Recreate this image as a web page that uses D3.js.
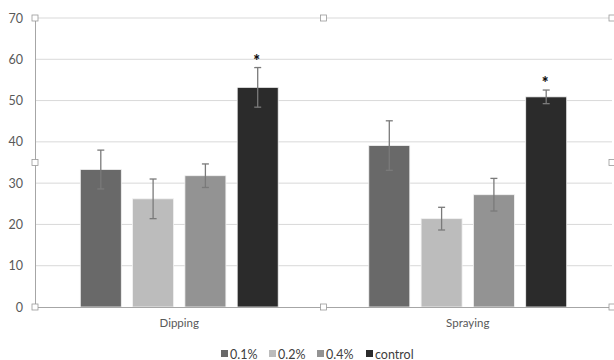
<!DOCTYPE html>
<html><head><meta charset="utf-8">
<script src="https://cdn.jsdelivr.net/npm/d3@7"></script>
<style>body{margin:0;background:#fff}svg{display:block}text{font-family:Lato,"Open Sans",sans-serif}</style>
</head><body>
<svg id="c" width="614" height="360"></svg>
<script>
const categories = ["Dipping", "Spraying"];
const seriesNames = ["0.1%", "0.2%", "0.4%", "control"];
const seriesColors = ["#696969", "#bcbcbc", "#939393", "#2b2b2b"];
const values = {
  "0.1%":    [33.3, 39.1],
  "0.2%":    [26.2, 21.4],
  "0.4%":    [31.8, 27.2],
  "control": [53.2, 50.9]
};
const errors = {
  "0.1%":    [4.7, 6.0],
  "0.2%":    [4.8, 2.75],
  "0.4%":    [2.85, 3.95],
  "control": [4.8, 1.65]
};
const significant = {
  "0.1%": [false, false], "0.2%": [false, false], "0.4%": [false, false], "control": [true, true]
};
const yTicks = [0, 10, 20, 30, 40, 50, 60, 70];

const svg = d3.select("#c");
const L = 35, R = 612, T = 18, B = 307;
const y = d3.scaleLinear().domain([0, 70]).range([B, T]);
const x0 = d3.scaleBand().domain(categories).range([L, R]).padding(0);
const cw = 209.2, off = (x0.bandwidth() - cw) / 2;
const x1 = d3.scaleBand().domain(seriesNames).range([off, off + cw]).paddingInner(0.216).paddingOuter(0.108);
const color = d3.scaleOrdinal().domain(seriesNames).range(seriesColors);

// gridlines
svg.append("g").selectAll("line").data(yTicks.filter(d => d > 0)).join("line")
  .attr("x1", L).attr("x2", R).attr("y1", d => y(d)).attr("y2", d => y(d))
  .attr("stroke", "#d9d9d9").attr("stroke-width", 1);

// y axis labels
const ya = svg.append("g").attr("transform", `translate(${L},0)`)
  .call(d3.axisLeft(y).tickValues(yTicks).tickSize(0).tickPadding(12));
ya.select(".domain").attr("stroke", "#a6a6a6");
ya.selectAll("text").attr("fill", "#595959").attr("font-size", 12.5).style("font-family", "Lato, sans-serif");

// bars
const rows = [];
categories.forEach((c, i) => seriesNames.forEach(s => rows.push({c, s, v: values[s][i], e: errors[s][i], sig: significant[s][i]})));
const g = svg.append("g");
g.selectAll("rect").data(rows).join("rect")
  .attr("x", d => x0(d.c) + x1(d.s)).attr("width", x1.bandwidth())
  .attr("y", d => y(d.v)).attr("height", d => B - y(d.v))
  .attr("fill", d => color(d.s)).attr("stroke", "#f2f2f2").attr("stroke-width", 0.8);

// error bars
const eb = svg.append("g").attr("stroke", "#7a7a7a").attr("stroke-width", 1.3);
rows.forEach(d => {
  const cx = x0(d.c) + x1(d.s) + x1.bandwidth() / 2;
  eb.append("line").attr("x1", cx).attr("x2", cx).attr("y1", y(d.v + d.e)).attr("y2", y(d.v - d.e));
  eb.append("line").attr("x1", cx - 3.5).attr("x2", cx + 3.5).attr("y1", y(d.v + d.e)).attr("y2", y(d.v + d.e));
  eb.append("line").attr("x1", cx - 3.5).attr("x2", cx + 3.5).attr("y1", y(d.v - d.e)).attr("y2", y(d.v - d.e));
});

// significance stars
svg.append("g").selectAll("text").data(rows.filter(d => d.sig)).join("text")
  .attr("x", d => x0(d.c) + x1(d.s) + x1.bandwidth() / 2 - 1)
  .attr("y", d => y(d.v + d.e) - 1)
  .attr("text-anchor", "middle").attr("font-size", 16).attr("font-weight", "900").attr("fill", "#111")
  .text("*");

// bottom axis
const xa = svg.append("g").attr("transform", `translate(0,${B})`)
  .call(d3.axisBottom(x0).tickSize(0).tickPadding(12));
xa.select(".domain").attr("stroke", "#a6a6a6");
xa.selectAll("text").attr("fill", "#595959").attr("font-size", 11.5).style("font-family", "Lato, sans-serif");

// selection handles
const hx = [L, (L + R) / 2, R], hy = [T, (T + B) / 2, B];
const handles = [];
hx.forEach(a => hy.forEach(b => { if (!(a === hx[1] && b === hy[1])) handles.push([a, b]); }));
svg.append("g").selectAll("rect").data(handles).join("rect")
  .attr("x", d => d[0] - 3).attr("y", d => d[1] - 3).attr("width", 6).attr("height", 6)
  .attr("fill", "#fff").attr("stroke", "#9a9a9a").attr("stroke-width", 0.8);

// legend
const legX = [221, 269, 317, 366];
const lg = svg.append("g").selectAll("g").data(seriesNames).join("g")
  .attr("transform", (d, i) => `translate(${legX[i]},354)`);
lg.append("rect").attr("x", 0).attr("y", -4).attr("width", 7).attr("height", 7).attr("fill", d => color(d));
lg.append("text").attr("x", 9).attr("y", 4.5).attr("font-size", 12.5).attr("fill", "#404040").text(d => d);
</script>
</body></html>
